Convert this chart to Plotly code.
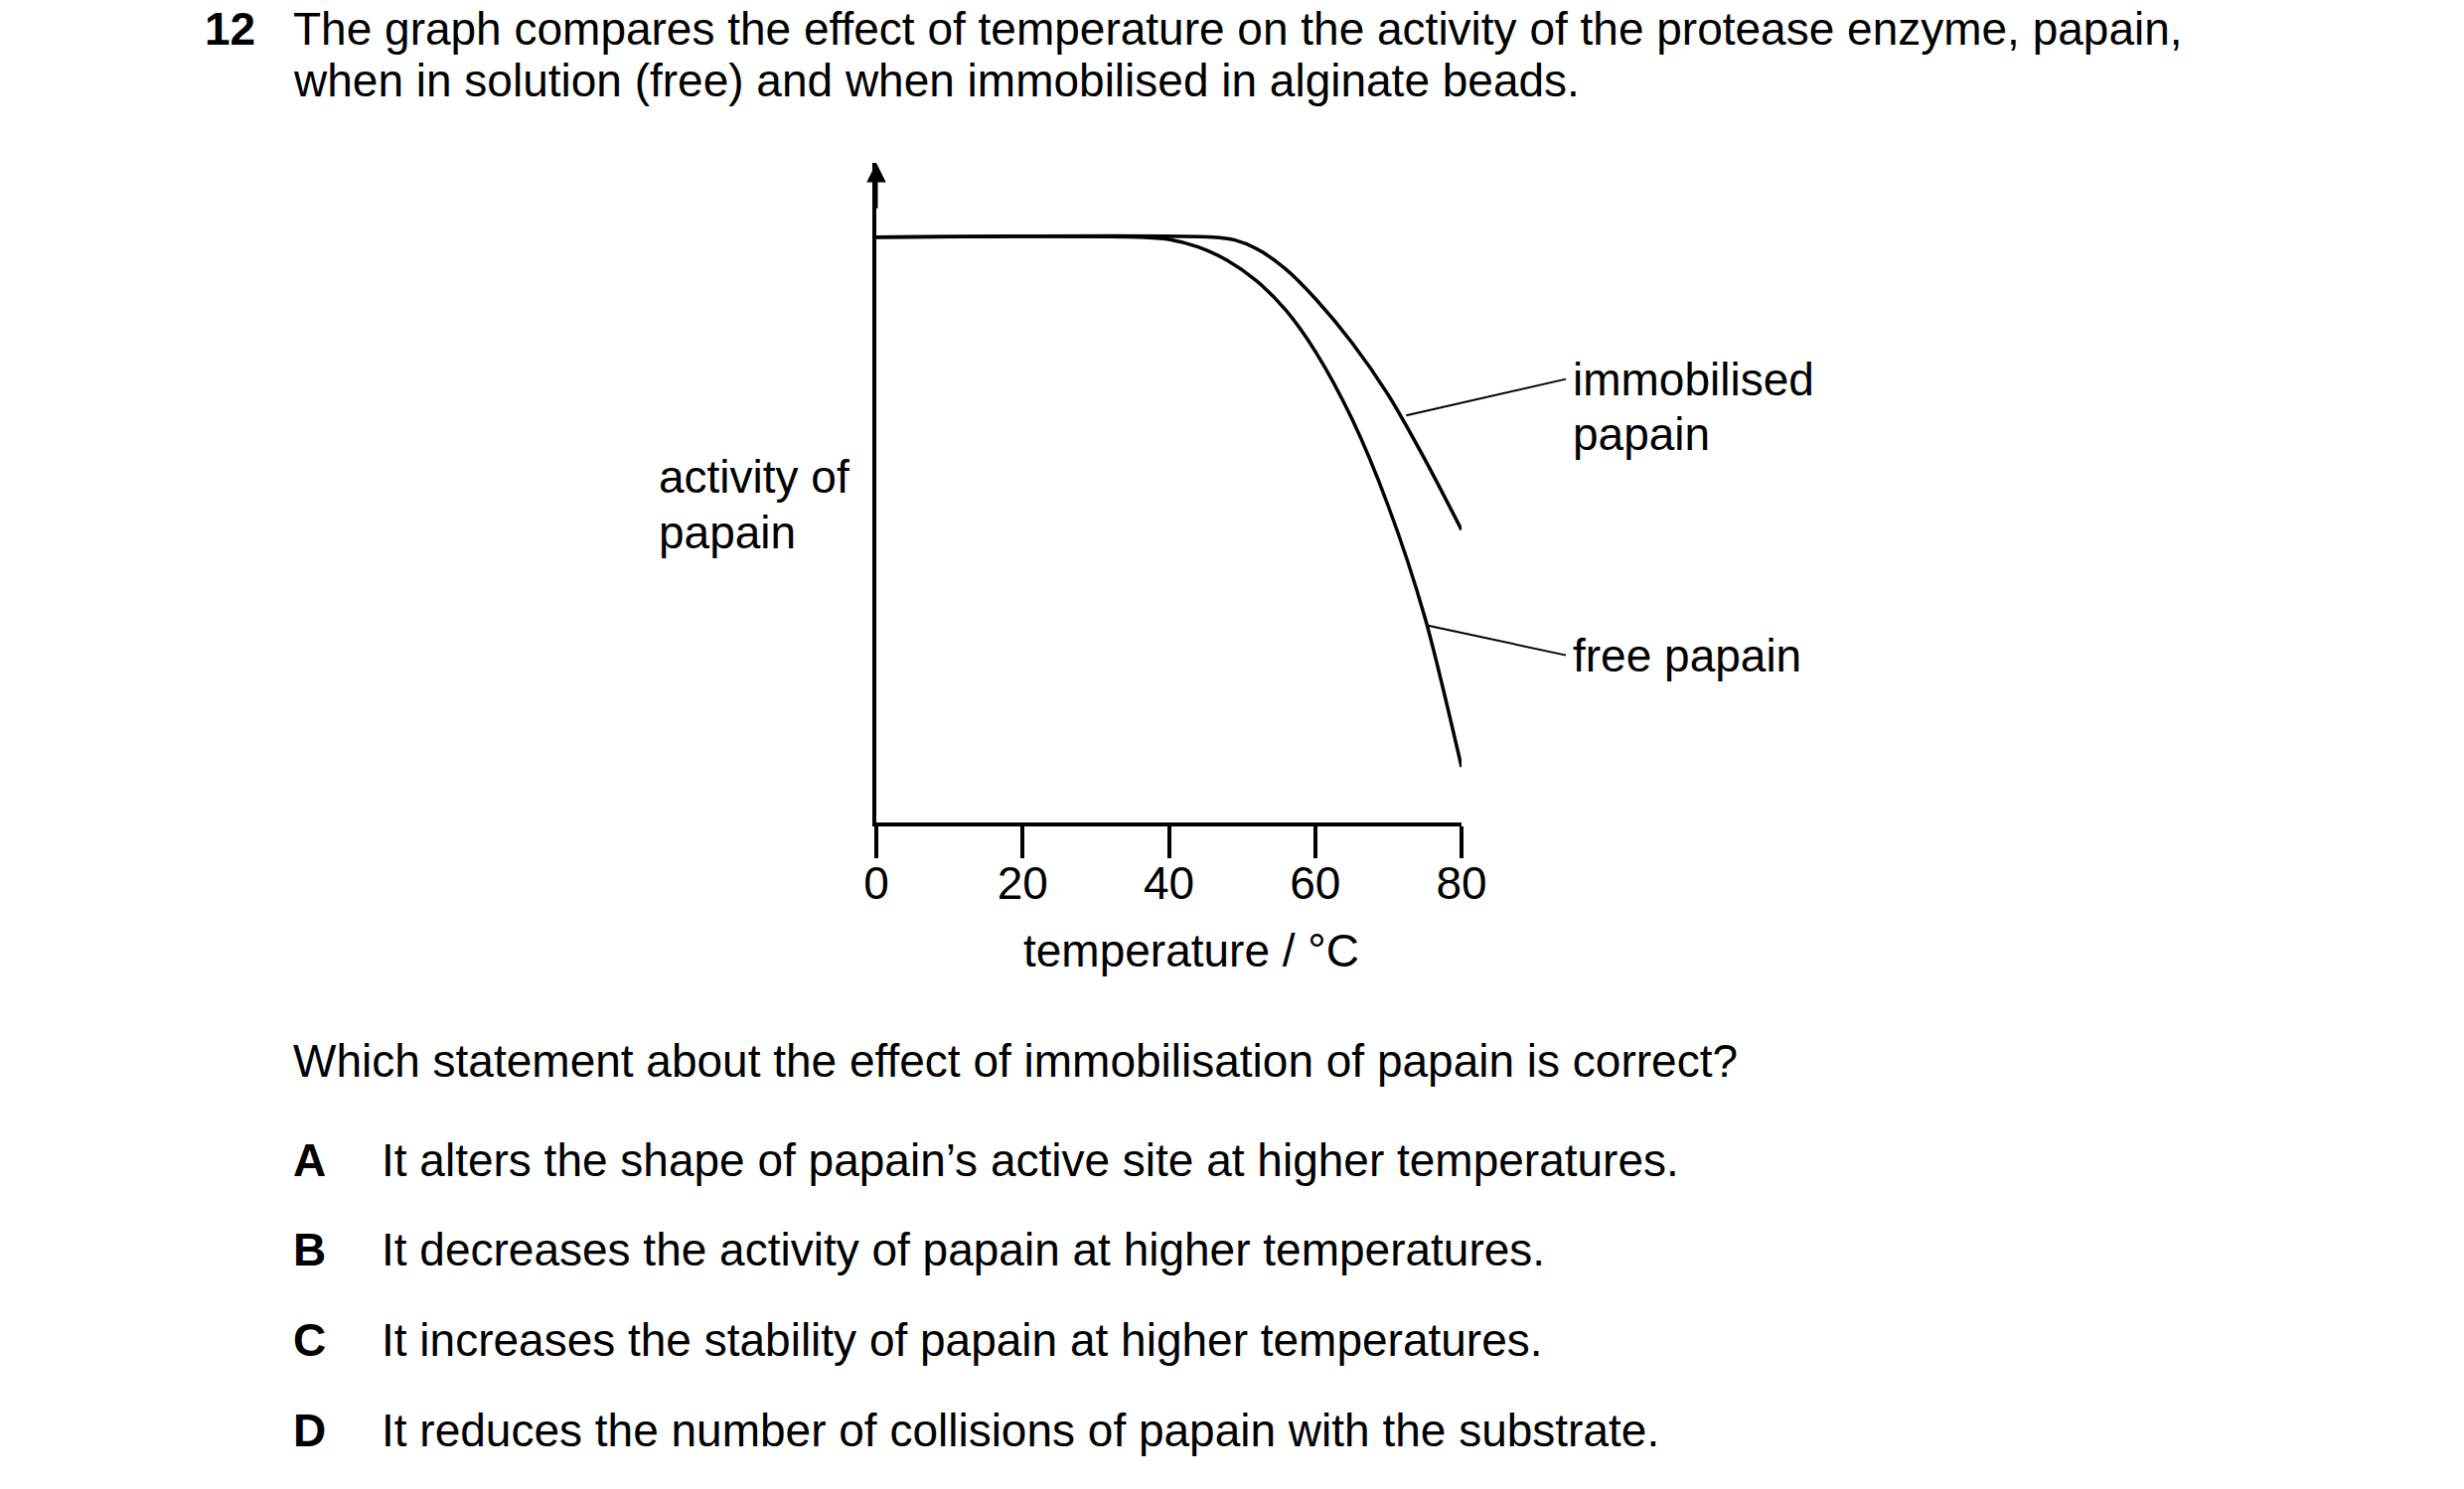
import plotly.graph_objects as go

free_t = [0, 36, 40, 44, 48, 52, 56, 60, 65, 70, 75, 80]
free_a = [100, 100, 99.6, 98.3, 96, 92.5, 87.5, 80.5, 69, 54, 35, 9.5]
imm_t = [0, 46, 49, 52, 56, 60, 65, 70, 75, 80]
imm_a = [100, 100, 99.5, 98, 94.5, 89.5, 82, 73, 62, 50]
xticks = [0, 20, 40, 60, 80]

S = 2480 / 1560
W, H = 2480, 1499
OFF = 7
L, R = (557 - OFF) * S, (927 - OFF) * S
Y0, YTOP = (523 - OFF) * S, (105 - OFF) * S
Y100 = (152 - OFF) * S

def px(x):
    return ((x - OFF) * S - L) / (R - L)

def py(y):
    return (Y0 - (y - OFF) * S) / (Y0 - YTOP)

FS = 46
font = dict(family="Liberation Sans, Arial", size=FS, color="black")

fig = go.Figure()
for t, a in [(free_t, free_a), (imm_t, imm_a)]:
    fig.add_trace(go.Scatter(x=t, y=a, mode="lines", line=dict(color="black", width=3.5, shape="spline", smoothing=0.8),
                             hoverinfo="skip", showlegend=False, cliponaxis=False))

ymax = 100 * (Y0 - YTOP) / (Y0 - Y100)
fig.update_layout(
    width=W, height=H, paper_bgcolor="white", plot_bgcolor="white",
    margin=dict(l=L, r=W - R, t=YTOP, b=H - Y0, pad=0),
    font=font,
    xaxis=dict(range=[0, 80], tickvals=xticks, ticktext=[str(v) for v in xticks], showline=True, linecolor="black",
               linewidth=3.5, ticks="outside", ticklen=32, tickwidth=3.5, tickcolor="black", showgrid=False, zeroline=False,
               tickfont=font, ticklabelstandoff=-14),
    yaxis=dict(range=[0, ymax], showline=True, linecolor="black", linewidth=3.5, showticklabels=False, ticks="",
               showgrid=False, zeroline=False),
)

fig.add_annotation(x=0, y=ymax, ax=0, ay=ymax - 8, xref="x", yref="y", axref="x", ayref="y", text="",
                   showarrow=True, arrowhead=2, arrowsize=1.3, arrowwidth=3, arrowcolor="black")

def seg(x0, y0, x1, y1):
    fig.add_shape(type="line", xref="paper", yref="paper", x0=px(x0), y0=py(y0), x1=px(x1), y1=py(y1),
                  line=dict(color="black", width=2))

seg(892, 265, 993, 242)
seg(905, 398, 993, 417)

def txt(x, y, s, anchor="left", bold=False):
    fig.add_annotation(x=px(x), y=py(y), xref="paper", yref="paper", text=("<b>%s</b>" % s) if bold else s,
                       showarrow=False, xanchor=anchor, yanchor="middle", align="left", font=font)

txt(131, 20, "12", bold=True)
txt(187, 20, "The graph compares the effect of temperature on the activity of the protease enzyme, papain,")
txt(187, 53, "when in solution (free) and when immobilised in alginate beads.")
txt(418, 304, "activity of")
txt(418, 339, "papain")
txt(996, 242, "immobilised")
txt(996, 277, "papain")
txt(996, 417, "free papain")
txt(756, 604, "temperature / °C", anchor="center")
txt(187, 674, "Which statement about the effect of immobilisation of papain is correct?")
opts = [("A", "It alters the shape of papain’s active site at higher temperatures."),
        ("B", "It decreases the activity of papain at higher temperatures."),
        ("C", "It increases the stability of papain at higher temperatures."),
        ("D", "It reduces the number of collisions of papain with the substrate.")]
for i, (k, s) in enumerate(opts):
    y = 737 + 57 * i
    txt(187, y, k, bold=True)
    txt(243, y, s)

fig.write_html("out.html")
